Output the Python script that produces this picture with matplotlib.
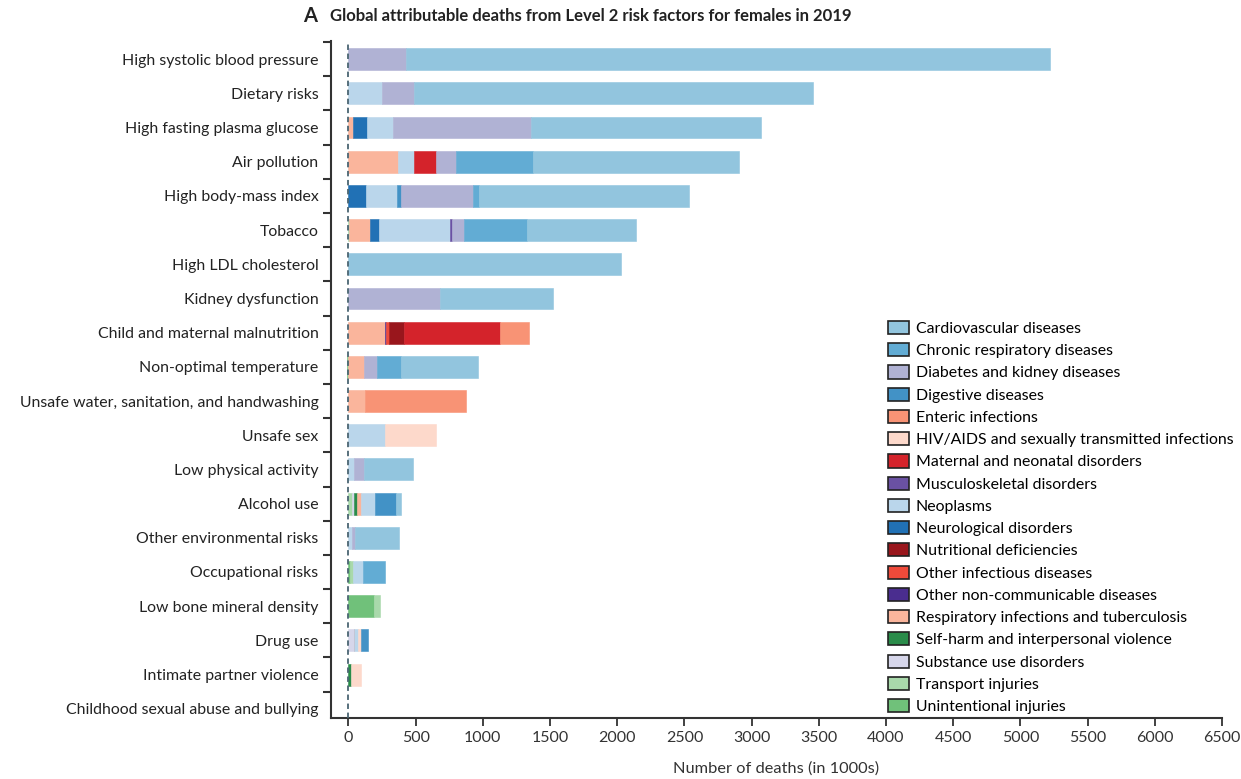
import numpy as np
import matplotlib.pyplot as plt
from matplotlib.patches import Patch

# risk factors, top to bottom
risks = ["High systolic blood pressure", "Dietary risks", "High fasting plasma glucose",
         "Air pollution", "High body-mass index", "Tobacco", "High LDL cholesterol",
         "Kidney dysfunction", "Child and maternal malnutrition", "Non-optimal temperature",
         "Unsafe water, sanitation, and handwashing", "Unsafe sex", "Low physical activity",
         "Alcohol use", "Other environmental risks", "Occupational risks",
         "Low bone mineral density", "Drug use", "Intimate partner violence",
         "Childhood sexual abuse and bullying"]

causes = ["Cardiovascular diseases", "Chronic respiratory diseases", "Diabetes and kidney diseases",
          "Digestive diseases", "Enteric infections", "HIV/AIDS and sexually transmitted infections",
          "Maternal and neonatal disorders", "Musculoskeletal disorders", "Neoplasms",
          "Neurological disorders", "Nutritional deficiencies", "Other infectious diseases",
          "Other non-communicable diseases", "Respiratory infections and tuberculosis",
          "Self-harm and interpersonal violence", "Substance use disorders",
          "Transport injuries", "Unintentional injuries"]

colors = ["#92c5de", "#62acd4", "#b0b2d4", "#4292c6", "#f89375", "#fdd9cb",
          "#d4232b", "#6a51a3", "#bad6eb", "#2171b5", "#99161c", "#ef4a3a",
          "#4a2d8f", "#fab59c", "#2a8c4a", "#d6d6ea", "#a9d9ab", "#70c17a"]

# deaths in 1000s, one list per cause, same order as risks
cvd       = [4795, 2970, 1713, 1537, 1562, 809, 2030, 841, 0, 570, 0, 0, 364, 37, 325, 0, 0, 0, 0, 0]
chron_res = [0, 0, 0, 573, 42, 471, 0, 0, 0, 176, 0, 0, 0, 0, 0, 169, 0, 0, 0, 0]
diabetes  = [426, 240, 1029, 148, 536, 87, 0, 679, 0, 97, 0, 0, 72, 0, 25, 0, 0, 0, 0, 0]
digestive = [0, 0, 0, 0, 30, 0, 0, 0, 0, 0, 0, 0, 0, 157, 0, 0, 0, 54, 0, 0]
enteric   = [0, 0, 0, 0, 0, 0, 0, 0, 218, 0, 749, 0, 0, 0, 0, 0, 0, 0, 0, 0]
hiv       = [0, 0, 0, 0, 0, 0, 0, 0, 0, 0, 0, 374, 0, 0, 0, 0, 0, 18, 70, 0]
maternal  = [0, 0, 0, 164, 0, 0, 0, 0, 719, 0, 0, 0, 0, 0, 0, 0, 0, 0, 0, 0]
musculo   = [0, 0, 0, 0, 0, 14, 0, 0, 0, 0, 0, 0, 0, 0, 0, 0, 0, 0, 0, 0]
neoplasms = [0, 248, 189, 119, 230, 528, 0, 0, 0, 0, 0, 275, 45, 97, 27, 71, 0, 29, 0, 0]
neuro     = [0, 0, 104, 0, 134, 67, 0, 0, 0, 0, 0, 0, 0, 0, 0, 0, 0, 0, 0, 0]
nutrition = [0, 0, 0, 0, 0, 0, 0, 0, 105, 0, 0, 0, 0, 0, 0, 0, 0, 0, 0, 0]
other_inf = [0, 0, 0, 0, 0, 0, 0, 0, 22, 0, 0, 0, 0, 0, 0, 0, 0, 5, 0, 0]
other_ncd = [0, 0, 0, 0, 0, 0, 0, 0, 8, 0, 0, 0, 0, 0, 0, 0, 0, 0, 0, 0]
resp_inf  = [0, 0, 37, 367, 0, 159, 0, 0, 275, 119, 126, 0, 0, 37, 0, 0, 0, 0, 0, 0]
self_harm = [0, 0, 0, 0, 0, 0, 0, 0, 0, 0, 0, 0, 0, 15, 0, 0, 0, 0, 22, 0]
substance = [0, 0, 0, 0, 0, 0, 0, 0, 0, 0, 0, 0, 0, 15, 0, 0, 0, 40, 0, 0]
transport = [0, 0, 0, 0, 0, 4, 0, 0, 0, 0, 0, 0, 0, 30, 0, 20, 47, 0, 0, 0]
uninj     = [0, 0, 0, 0, 0, 0, 0, 0, 0, -14, 0, 0, 0, 0, 0, 15, 188, 0, 0, 0]

series = [cvd, chron_res, diabetes, digestive, enteric, hiv, maternal, musculo, neoplasms,
          neuro, nutrition, other_inf, other_ncd, resp_inf, self_harm, substance,
          transport, uninj]

plt.rcParams['font.family'] = ['Lato', 'DejaVu Sans']

fig = plt.figure(figsize=(12.41, 7.79), dpi=100)
ax = fig.add_axes([0.2667, 0.0783, 0.7180, 0.8691])

y = np.arange(len(risks))
pos = np.zeros(len(risks))
neg = np.zeros(len(risks))
# stacking goes from the last legend entry to the first
for vals, col in zip(series[::-1], colors[::-1]):
    v = np.array(vals, dtype=float)
    left = np.where(v >= 0, pos, neg)
    nz = v != 0
    ax.barh(y[nz], v[nz], left=left[nz], height=0.64, color=col, edgecolor=col, linewidth=0.4)
    pos += np.where(v >= 0, v, 0)
    neg += np.where(v < 0, v, 0)

ax.axvline(0, color='#4a6572', linestyle=(0, (3, 2)), lw=1.3, zorder=5)

ax.set_xlim(-130, 6500)
ax.set_ylim(19.27, -0.53)
ax.set_xticks(np.arange(0, 6501, 500))
ax.set_yticks(y)
ax.set_yticklabels(risks)
ax.set_yticks(np.arange(-0.5, 19, 1), minor=True)
ax.tick_params(axis='y', which='major', length=0, pad=9, labelsize=11.4, colors='#222222')
ax.tick_params(axis='y', which='minor', length=6, width=1.5, color='#333333')
ax.tick_params(axis='x', length=6, width=1.3, labelsize=11.5, color='#333333', labelcolor='#333333')
for s in ['top', 'right']:
    ax.spines[s].set_visible(False)
for s in ['left', 'bottom']:
    ax.spines[s].set_linewidth(1.5)
    ax.spines[s].set_color('#333333')

ax.set_xlabel("Number of deaths (in 1000s)", fontsize=11.8, color='#333333', labelpad=12)

fig.text(0.244, 0.979, "A", fontsize=14.5, fontweight='bold', color='#222222', va='center')
fig.text(0.266, 0.979, "Global attributable deaths from Level 2 risk factors for females in 2019",
         fontsize=12, fontweight='bold', color='#222222', va='center')

handles = [Patch(facecolor=c, edgecolor='#222222', linewidth=1.2) for c in colors]
fig.legend(handles, causes, loc='upper left', bbox_to_anchor=(0.7155, 0.588), frameon=False,
           fontsize=11.4, handlelength=1.3, handleheight=0.9, handletextpad=0.45,
           labelspacing=0.455, borderpad=0, borderaxespad=0)

fig.savefig("out.png", dpi=100)
